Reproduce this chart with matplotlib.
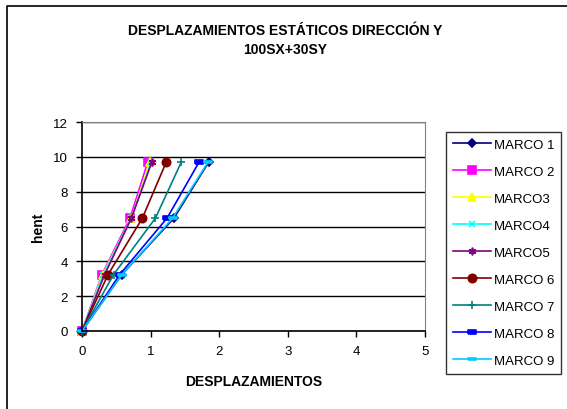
import matplotlib
matplotlib.use("Agg")
import matplotlib.pyplot as plt
from matplotlib.lines import Line2D

W, H = 567, 410
plt.rcParams['font.family'] = ['Liberation Sans', 'DejaVu Sans']

# alturas de piso (m) y desplazamientos por marco
alturas = [0, 3.24, 6.48, 9.72]
marcos = ["MARCO 1", "MARCO 2", "MARCO3", "MARCO4", "MARCO5",
          "MARCO 6", "MARCO 7", "MARCO 8", "MARCO 9"]
marco1 = [0, 0.58, 1.34, 1.85]
marco2 = [0, 0.29, 0.70, 0.96]
marco3 = [0, 0.30, 0.72, 0.99]
marco4 = [0, 0.31, 0.72, 1.01]
marco5 = [0, 0.33, 0.72, 1.02]
marco6 = [0, 0.38, 0.88, 1.23]
marco7 = [0, 0.46, 1.07, 1.45]
marco8 = [0, 0.55, 1.24, 1.71]
marco9 = [0, 0.58, 1.32, 1.84]
desplaz = [marco1, marco2, marco3, marco4, marco5, marco6, marco7, marco8, marco9]

colores = ["#000080", "#FF00FF", "#FFFF00", "#00FFFF", "#800080",
           "#800000", "#008080", "#0000FF", "#00CCFF"]
barra_corta = [(-1, -0.4), (1, -0.4), (1, 0.4), (-1, 0.4), (-1, -0.4)]
barra_larga = [(-1.6, -0.4), (1.6, -0.4), (1.6, 0.4), (-1.6, 0.4), (-1.6, -0.4)]
marcadores = ["D", "s", "^", "x", (6, 2, 0), "o", "+", barra_corta, barra_larga]
tamanos = [4.5, 5.5, 5.5, 5, 5.5, 6, 6, 5.5, 6]

fig = plt.figure(figsize=(W / 100, H / 100), dpi=100)

# borde del área del gráfico (sólo visible arriba e izquierda)
fig.add_artist(Line2D([7 / W, 7 / W, 1], [0, 1 - 7 / H, 1 - 7 / H],
                      transform=fig.transFigure, color="black", lw=1.2))

ax = fig.add_axes([82 / W, (H - 332) / H, (425 - 82) / W, (332 - 123) / H])

for x, lab, c, m, s in zip(desplaz, marcos, colores, marcadores, tamanos):
    ax.plot(x, alturas, color=c, lw=1.2, marker=m, markersize=s,
            markerfacecolor=c, markeredgecolor=c, markeredgewidth=1.2,
            label=lab, clip_on=False)

ax.set_xlim(0, 5)
ax.set_ylim(0, 12)
ax.set_xticks(range(0, 6))
ax.set_yticks(range(0, 13, 2))
ax.yaxis.grid(True, color="black", lw=1)
ax.set_axisbelow(True)
for lado in ["top", "right"]:
    ax.spines[lado].set_color("#808080")
for lado in ["left", "bottom"]:
    ax.spines[lado].set_color("black")
    ax.spines[lado].set_linewidth(1.2)
ax.tick_params(axis="both", direction="out", length=4, width=1,
               labelsize=9.5, pad=6)

ax.set_xlabel("DESPLAZAMIENTOS", fontsize=10, fontweight="bold", labelpad=12)
ax.set_ylabel("hent", fontsize=10, fontweight="bold", labelpad=6)

fig.text(285 / W, 1 - 31 / H, "DESPLAZAMIENTOS ESTÁTICOS DIRECCIÓN Y",
         ha="center", va="center", fontsize=10, fontweight="bold")
fig.text(285 / W, 1 - 50 / H, "100SX+30SY",
         ha="center", va="center", fontsize=10, fontweight="bold")

leg = ax.legend(loc="upper left", bbox_to_anchor=(446 / W, 1 - 133 / H),
                bbox_transform=fig.transFigure, borderaxespad=0, fancybox=False,
                edgecolor="black", fontsize=9.5, labelspacing=1.12,
                handlelength=2.9, handletextpad=0.2, borderpad=0.5)
leg.get_frame().set_linewidth(1)

fig.savefig("out.png", dpi=100)
